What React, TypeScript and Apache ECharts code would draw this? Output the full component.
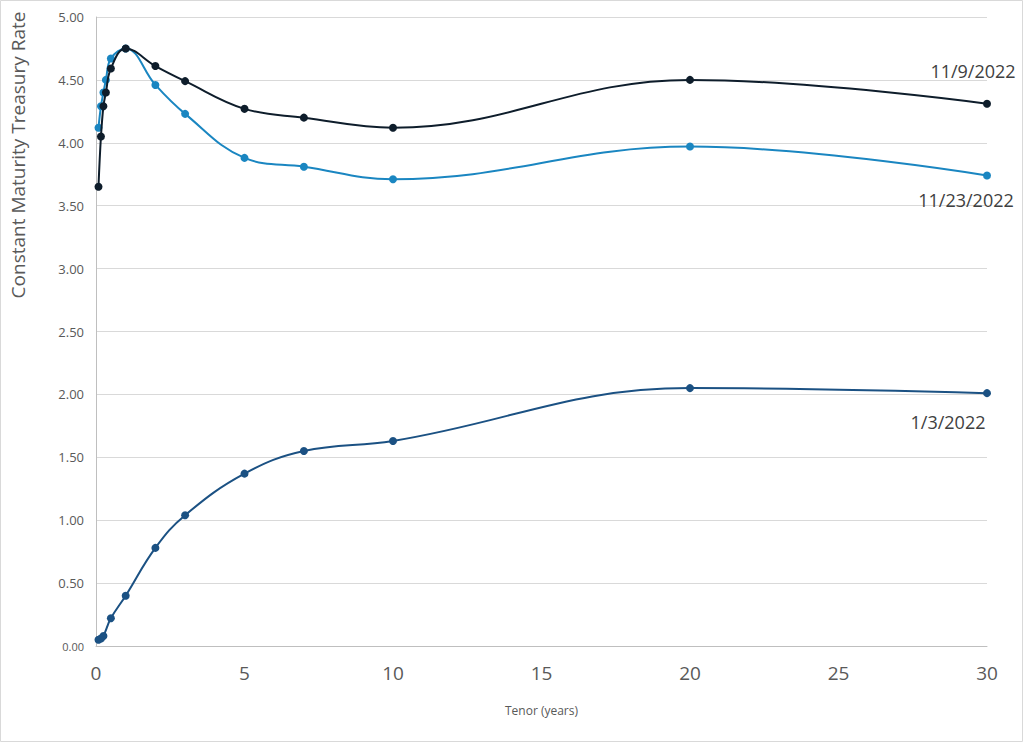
import React, { useEffect, useRef } from "react";
import * as echarts from "echarts";

const tenors913 = [1 / 12, 2 / 12, 3 / 12, 4 / 12, 0.5, 1, 2, 3, 5, 7, 10, 20, 30];
const rates119 = [3.65, 4.05, 4.29, 4.40, 4.59, 4.75, 4.61, 4.49, 4.27, 4.20, 4.12, 4.50, 4.31];
const rates1123 = [4.12, 4.29, 4.40, 4.50, 4.67, 4.75, 4.46, 4.23, 3.88, 3.81, 3.71, 3.97, 3.74];
const tenors13 = [1 / 12, 2 / 12, 3 / 12, 0.5, 1, 2, 3, 5, 7, 10, 20, 30];
const rates13 = [0.05, 0.06, 0.08, 0.22, 0.40, 0.78, 1.04, 1.37, 1.55, 1.63, 2.05, 2.01];
const seriesNames = ["11/9/2022", "11/23/2022", "1/3/2022"];
const xTicks = [0, 5, 10, 15, 20, 25, 30];

function build(xs: number[], ys: number[], labelOffset: number[], name: string) {
  return xs.map((x, i) => {
    const item: any = { value: [x, ys[i]] };
    if (i === xs.length - 1) {
      item.label = {
        show: true,
        position: "inside",
        offset: labelOffset,
        formatter: name,
        fontSize: 18,
        color: "#404040",
        fontFamily: "Open Sans, Noto Sans, sans-serif",
      };
    }
    return item;
  });
}

export default function App() {
  const ref = useRef<HTMLDivElement>(null);
  useEffect(() => {
    document.body.style.margin = "0";
    const chart = echarts.init(ref.current!, null, { renderer: "svg" });
    const font = "Open Sans, Noto Sans, sans-serif";
    chart.setOption({
      animation: false,
      backgroundColor: "#ffffff",
      grid: { left: 96, right: 37, top: 17, bottom: 97, containLabel: false },
      graphic: [
        {
          type: "rect",
          shape: { x: 0.5, y: 0.5, width: 1022, height: 741 },
          style: { fill: "none", stroke: "#d9d9d9", lineWidth: 1 },
          silent: true,
        },
        {
          type: "text",
          x: 18,
          y: 155,
          rotation: Math.PI / 2,
          style: {
            text: "Constant Maturity Treasury Rate",
            fontSize: 19,
            fill: "#595959",
            fontFamily: font,
            align: "center",
            verticalAlign: "middle",
          },
        },
      ],
      xAxis: {
        type: "value",
        min: 0,
        max: 30,
        interval: 5,
        name: "Tenor (years)",
        nameLocation: "middle",
        nameGap: 58,
        nameTextStyle: { fontSize: 12, color: "#595959", fontFamily: font },
        axisLine: { show: true, lineStyle: { color: "#bfbfbf", width: 1 } },
        axisTick: { show: false },
        splitLine: { show: false },
        axisLabel: {
          fontSize: 19,
          color: "#595959",
          margin: 17,
          fontFamily: font,
          formatter: (v: number) => (xTicks.includes(v) ? String(v) : ""),
        },
      },
      yAxis: {
        type: "value",
        min: 0,
        max: 5,
        interval: 0.5,
        axisLine: { show: true, lineStyle: { color: "#bfbfbf", width: 1 } },
        axisTick: { show: false },
        splitLine: { show: true, lineStyle: { color: "#d9d9d9", width: 1 } },
        axisLabel: {
          fontSize: 13,
          color: "#595959",
          margin: 12,
          fontFamily: font,
          formatter: (v: number) => (v === 0 ? "{s|0.00}" : v.toFixed(2)),
          rich: { s: { fontSize: 11, color: "#595959", fontFamily: font } },
        },
      },
      series: [
        {
          name: seriesNames[2],
          type: "line",
          smooth: 0.4,
          symbol: "circle",
          symbolSize: 8,
          lineStyle: { color: "#1b5183", width: 2 },
          itemStyle: { color: "#1b5183" },
          data: build(tenors13, rates13, [-39, 29], seriesNames[2]),
          z: 2,
        },
        {
          name: seriesNames[1],
          type: "line",
          smooth: 0.4,
          symbol: "circle",
          symbolSize: 8,
          lineStyle: { color: "#1a86c1", width: 2 },
          itemStyle: { color: "#1a86c1" },
          data: build(tenors913, rates1123, [-21, 24], seriesNames[1]),
          z: 3,
        },
        {
          name: seriesNames[0],
          type: "line",
          smooth: 0.4,
          symbol: "circle",
          symbolSize: 8,
          lineStyle: { color: "#0e1d2b", width: 2 },
          itemStyle: { color: "#0e1d2b" },
          data: build(tenors913, rates119, [-14, -33], seriesNames[0]),
          z: 4,
        },
      ],
    });
    return () => chart.dispose();
  }, []);
  return <div ref={ref} style={{ width: 1024, height: 743 }} />;
}
